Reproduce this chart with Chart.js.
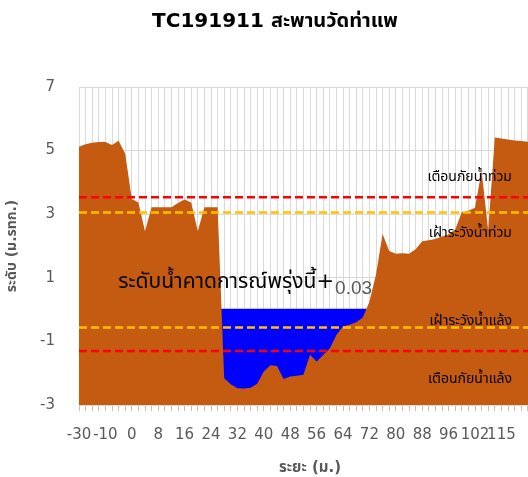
<!DOCTYPE html>
<html><head><meta charset="utf-8">
<script src="https://cdn.jsdelivr.net/npm/chart.js@4"></script>
<style>
html,body{margin:0;padding:0;background:#fff;overflow:hidden;width:528px;height:477px}
#wrap{width:556px;height:477px}
</style></head>
<body><div id="wrap"><canvas id="c" width="556" height="477"></canvas></div>
<script>
const distances = ['-30','-25','-20','-15','-10','-7.5','-5','-2.5','0','2','4','6','8','10','12','14','16','18','20','22','24','26','28','30','32','34','36','38','40','42','44','46','48','50','52','54','56','58','60','62','64','66','68','70','72','74','76','78','80','82','84','86','88','90','92','94','96','97.5','99','100.5','102','105','108','112','115','117','119','121','123','125','127'];
const groundLevel = [5.12,5.20,5.25,5.27,5.27,5.18,5.31,4.90,3.48,3.37,2.46,3.22,3.22,3.22,3.22,3.35,3.46,3.37,2.46,3.22,3.22,3.22,-2.16,-2.35,-2.47,-2.48,-2.46,-2.33,-1.95,-1.75,-1.77,-2.18,-2.10,-2.08,-2.05,-1.42,-1.63,-1.43,-1.22,-0.80,-0.52,-0.48,-0.40,-0.25,0.25,1.10,2.38,1.84,1.76,1.77,1.76,1.90,2.15,2.18,2.22,2.30,2.36,2.52,3.06,3.11,3.20,4.37,2.49,5.41,5.38,5.35,5.32,5.30,5.28,5.27,5.25];
const waterLevel = [null,null,null,null,null,null,null,null,null,null,null,null,null,null,null,null,null,null,null,null,null,0.03,0.03,0.03,0.03,0.03,0.03,0.03,0.03,0.03,0.03,0.03,0.03,0.03,0.03,0.03,0.03,0.03,0.03,0.03,0.03,0.03,0.03,0.03,0.03,null,null,null,null,null,null,null,null,null,null,null,null,null,null,null,null,null,null,null,null,null,null,null,null,null,null];
const floodWarning = 3.53;
const floodWatch = 3.05;
const droughtWatch = -0.56;
const droughtWarning = -1.30;
const forecastChange = '0.03';
const yTicks = [-3,-1,1,3,5,7];

const thaiFont = '"DejaVu Sans", Tahoma, "Leelawadee UI", "Noto Sans Thai", sans-serif';
const flat = v => distances.map(() => v);

const textPlugin = {
  id: 'texts',
  afterDatasetsDraw(chart) {
    const {ctx, scales: {x, y}} = chart;
    ctx.save();
    ctx.textBaseline = 'middle';
    ctx.fillStyle = '#000';
    ctx.font = '21px ' + thaiFont;
    ctx.textAlign = 'left';
    ctx.fillText('ระดับน้ำคาดการณ์พรุ่งนี้+', x.getPixelForValue(5.95), y.getPixelForValue(0.85));
    ctx.fillStyle = '#595959';
    ctx.font = '19px "Liberation Sans", Arial, sans-serif';
    ctx.fillText(forecastChange, x.getPixelForValue(38.8), y.getPixelForValue(0.66));
    ctx.fillStyle = '#000';
    ctx.font = '14px ' + thaiFont;
    ctx.textAlign = 'right';
    const xr = x.getPixelForValue(65.6);
    ctx.fillText('เตือนภัยน้ำท่วม', xr, y.getPixelForValue(floodWarning) - 20);
    ctx.fillText('เฝ้าระวังน้ำท่วม', xr, y.getPixelForValue(floodWatch) + 21);
    ctx.fillText('เฝ้าระวังน้ำแล้ง', xr, y.getPixelForValue(droughtWatch) - 6);
    ctx.fillText('เตือนภัยน้ำแล้ง', xr, y.getPixelForValue(droughtWarning) + 28);
    ctx.restore();
  }
};

const dashed = (data, color) => ({
  type: 'line', data, borderColor: color, borderWidth: 2.5, borderDash: [8, 4],
  pointRadius: 0, fill: false, tension: 0
});

new Chart(document.getElementById('c'), {
  type: 'line',
  data: {
    labels: distances,
    datasets: [
      dashed(flat(floodWarning), '#FF0000'),
      dashed(flat(floodWatch), '#FFC000'),
      dashed(flat(droughtWatch), '#FFC000'),
      dashed(flat(droughtWarning), '#FF0000'),
      { data: groundLevel, backgroundColor: '#C55A11', borderWidth: 0, borderColor: '#C55A11', pointRadius: 0, fill: 'start', tension: 0 },
      { data: waterLevel, backgroundColor: '#0000FF', borderWidth: 0, borderColor: '#0000FF', pointRadius: 0, fill: 'start', tension: 0, spanGaps: false }
    ]
  },
  options: {
    responsive: false,
    animation: false,
    layout: { padding: { left: 0, right: 6, top: 0, bottom: 0 } },
    plugins: {
      legend: { display: false },
      tooltip: { enabled: false },
      title: {
        display: true,
        text: 'TC191911 สะพานวัดท่าแพ',
        color: '#000',
        font: { family: thaiFont, size: 20, weight: 'bold' },
        padding: { top: 10, bottom: 53 }
      }
    },
    scales: {
      x: {
        type: 'category',
        offset: false,
        grid: { color: '#d9d9d9', lineWidth: 1, drawTicks: true, tickLength: 6, tickColor: '#bfbfbf' },
        border: { color: '#d9d9d9' },
        ticks: {
          autoSkip: false, maxRotation: 0, minRotation: 0, padding: 15,
          color: '#595959', font: { family: '"DejaVu Sans", sans-serif', size: 15 },
          callback: (v, i) => (i % 4 === 0 && i <= 64 ? distances[i] : '')
        },
        title: { display: true, text: 'ระยะ (ม.)', color: '#595959', font: { family: thaiFont, size: 15, weight: 'bold' }, padding: { top: 0, bottom: 0 } },
        afterFit: s => { s.height = 72; }
      },
      y: {
        min: -3, max: 7,
        afterBuildTicks: s => { s.ticks = yTicks.map(v => ({ value: v })); },
        grid: { color: '#d9d9d9', drawTicks: false },
        border: { color: '#d9d9d9' },
        ticks: { padding: 24, color: '#595959', font: { family: '"DejaVu Sans", sans-serif', size: 15 } },
        title: { display: true, text: 'ระดับ (ม.รทก.)', color: '#595959', font: { family: thaiFont, size: 14, weight: 'bold' }, padding: { top: 4, bottom: 0 } },
        afterFit: s => { s.width = 79; }
      }
    }
  },
  plugins: [textPlugin]
});
</script>
</body></html>
